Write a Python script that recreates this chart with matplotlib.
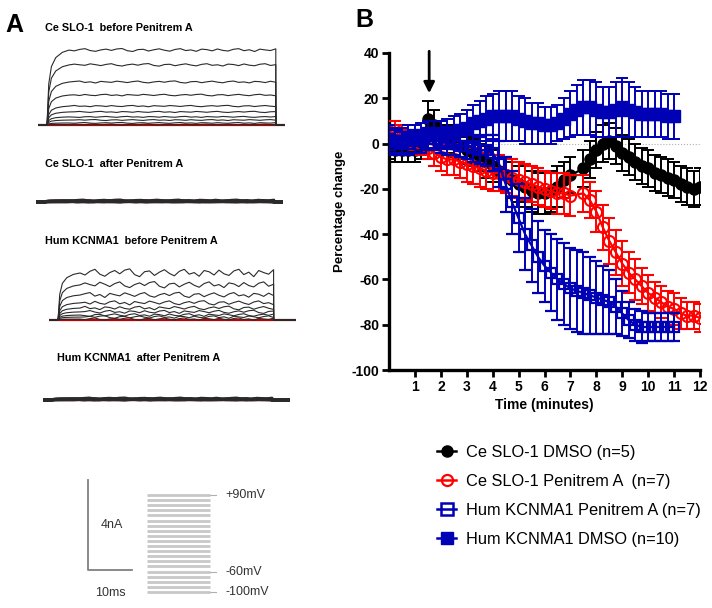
import matplotlib.pyplot as plt
from matplotlib.lines import Line2D
import numpy as np

plt.rcParams['font.family'] = ['Liberation Sans', 'DejaVu Sans']
plt.rcParams['axes.unicode_minus'] = False

W, H = 712, 608

# ---------------- panel B data (percentage change vs time, minutes) ----------------
t_hum = [0, 0.25, 0.5, 0.75, 1, 1.25, 1.5, 1.75, 2, 2.25, 2.5, 2.75, 3, 3.25, 3.5,
         3.75, 4, 4.25, 4.5, 4.75, 5, 5.25, 5.5, 5.75, 6, 6.25, 6.5, 6.75, 7, 7.25,
         7.5, 7.75, 8, 8.25, 8.5, 8.75, 9, 9.25, 9.5, 9.75, 10, 10.25, 10.5, 10.75, 11]
hum_dmso = [2, 1, 1, 2, 2, 3, 4, 4, 4, 5, 5, 6, 7, 9, 10, 11, 12, 12, 12, 12,
            11, 10, 9, 9, 8, 8, 9, 11, 13, 15, 16, 16, 15, 14, 14, 15, 16, 15, 14, 13,
            13, 13, 13, 12, 12]
hum_dmso_err = [6, 6, 6, 6, 6, 6, 6, 6, 6, 6, 7, 7, 8, 8, 9, 10, 10, 11, 11, 11,
                10, 10, 9, 9, 8, 8, 8, 9, 10, 11, 12, 12, 12, 11, 11, 12, 13, 12, 11, 10,
                10, 10, 10, 10, 10]
hum_pen = [2, 1, 0, 0, 1, 1, 2, 2, 1, 0, 0, -1, -1, -2, -3, -3, -4, -9, -18, -26,
           -33, -40, -45, -50, -54, -57, -60, -62, -64, -65, -66, -67, -68, -69, -70, -72,
           -75, -78, -80, -81, -81, -81, -81, -81, -81]
hum_pen_err = [5, 5, 5, 5, 5, 5, 5, 5, 5, 5, 5, 5, 6, 6, 6, 7, 8, 10, 12, 14,
               15, 16, 16, 16, 16, 17, 18, 18, 18, 18, 18, 17, 16, 15, 14, 12, 10, 8, 7, 7,
               6, 6, 6, 6, 6]

t_ce = [0, 0.25, 0.5, 0.75, 1, 1.25, 1.5, 1.75, 2, 2.25, 2.5, 2.75, 3, 3.25, 3.5,
        3.75, 4, 4.25, 4.5, 4.75, 5, 5.25, 5.5, 5.75, 6, 6.25, 6.5, 6.75, 7,
        7.5, 7.75, 8, 8.25, 8.5, 8.75, 9, 9.25, 9.5, 9.75, 10, 10.25, 10.5, 10.75, 11,
        11.25, 11.5, 11.75, 12]
ce_dmso = [-2, -3, -3, -3, -3, -2, 11, 8, 4, 2, 0, -1, -3, -4, -6, -8, -10, -12, -14,
           -16, -18, -19, -21, -22, -22, -21, -19, -16, -14,
           -11, -7, -3, 0, 1, -1, -4, -6, -8, -10, -11, -13, -14, -15, -16, -18, -19, -20, -19]
ce_dmso_err = [5, 5, 5, 5, 5, 5, 8, 7, 6, 6, 6, 6, 6, 6, 6, 7, 7, 7, 8, 8, 8, 9, 9, 9,
               9, 9, 9, 8, 8,
               8, 8, 8, 8, 8, 8, 8, 8, 8, 8, 8, 8, 8, 8, 8, 8, 8, 8, 8]
ce_pen = [3, 6, 4, 2, 1, 0, -2, -4, -6, -7, -7, -8, -9, -10, -11, -12, -13, -13, -14,
          -15, -16, -17, -18, -19, -20, -21, -22, -22, -23,
          -22, -25, -30, -37, -43, -48, -53, -57, -60, -63, -66, -68, -70, -72, -73, -75,
          -76, -76, -77]
ce_pen_err = [4, 4, 4, 4, 4, 5, 5, 6, 6, 7, 7, 7, 8, 8, 8, 8, 8, 8, 8, 8, 8, 8, 8, 8,
              8, 8, 9, 9, 9,
              8, 8, 9, 10, 10, 10, 10, 9, 9, 8, 8, 7, 7, 7, 7, 7, 6, 6, 6]

labels = ['Ce SLO-1 DMSO (n=5)', 'Ce SLO-1 Penitrem A  (n=7)',
          'Hum KCNMA1 Penitrem A (n=7)', 'Hum KCNMA1 DMSO (n=10)']
x_ticks = [1, 2, 3, 4, 5, 6, 7, 8, 9, 10, 11, 12]
y_ticks = [-100, -80, -60, -40, -20, 0, 20, 40]
arrow_time = 1.55

# ---------------- panel A data (currents in nA, time in ms) ----------------
ce_before_levels = [3.33, 2.67, 1.91, 1.33, 0.84, 0.58, 0.36, 0.22, 0.09, 0.02]
hum_before_levels = [2.09, 1.56, 1.11, 0.76, 0.53, 0.36, 0.22, 0.13, 0.04]
after_levels = [0.06, 0.04, 0.03, 0.02, 0.01]
rise_t = [0, 0.4, 1.0, 2.0, 3.5, 5.0]
rise_frac = [0, 0.55, 0.78, 0.9, 0.97, 1.0]
wiggle = [0.2, -0.5, 0.4, 0.9, -0.3, -0.8, 0.1, 0.6, -0.2, 0.7, 1.0, -0.4, -0.9, 0.3,
          0.5, -0.6, 0.2, 0.8, -0.1, -0.7, 0.4, 0.9, -0.3, 0.1, -0.8, 0.6, 0.3, -0.5,
          0.7, -0.2, -0.6, 0.5, 0.9, -0.4, 0.2, -0.9, 0.6, 0.1, -0.3, 0.8]
protocol_mv = [-100, -90, -80, -70, -60, -50, -40, -30, -20, -10,
               0, 10, 20, 30, 40, 50, 60, 70, 80, 90]
protocol_labels = {90: '+90mV', -60: '-60mV', -100: '-100mV'}

fig = plt.figure(figsize=(W / 100, H / 100), dpi=100)

PX_MS = 4.4      # pixels per ms
PX_NA = 22.5     # pixels per nA


def trace_axes(onset_px, base_px):
    left = onset_px - 2 * PX_MS
    bottom = base_px + 0.3 * PX_NA
    ax = fig.add_axes([left / W, 1 - bottom / H, 56 * PX_MS / W, 4.0 * PX_NA / H])
    ax.set_xlim(-2, 54)
    ax.set_ylim(-0.3, 3.7)
    ax.axis('off')
    return ax


def draw_family(ax, levels, dur, noise, lw=0.8):
    ax.plot([-2, 54], [0, 0], color='#c00000', lw=1.6, zorder=1)
    plat_t = np.linspace(rise_t[-1], dur, len(wiggle))
    for k, lev in enumerate(levels):
        w = np.roll(wiggle, 5 * k) * noise * (0.4 + lev / max(levels))
        tt = np.concatenate([[-2, 0], rise_t[1:], plat_t[1:], [dur, 54]])
        yy = np.concatenate([[0, 0], lev * np.array(rise_frac[1:]),
                             lev + w[1:], [0, 0]])
        ax.plot(tt, yy, color='#2a2a2a', lw=lw, zorder=2)


# panel A: current traces
ax1 = trace_axes(47, 125)
draw_family(ax1, ce_before_levels, 52, 0.05)
ax2 = trace_axes(45, 202)
draw_family(ax2, after_levels, 52, 0.02, lw=2.2)
ax3 = trace_axes(58, 320)
draw_family(ax3, hum_before_levels, 49, 0.13)
ax4 = trace_axes(52, 400)
draw_family(ax4, after_levels, 50, 0.02, lw=2.2)

fig.text(5 / W, 1 - 32 / H, 'A', fontsize=18, fontweight='bold')
tkw = dict(fontsize=7.8, fontweight='bold')
fig.text(45 / W, 1 - 31 / H, 'Ce SLO-1  before Penitrem A', **tkw)
fig.text(45 / W, 1 - 167 / H, 'Ce SLO-1  after Penitrem A', **tkw)
fig.text(45 / W, 1 - 244 / H, 'Hum KCNMA1  before Penitrem A', **tkw)
fig.text(57 / W, 1 - 361 / H, 'Hum KCNMA1  after Penitrem A', **tkw)

# scale bar
axs = fig.add_axes([(88 - 2 * PX_MS) / W, 1 - (570 + 1.5 * PX_NA) / H,
                    32 * PX_MS / W, 6 * PX_NA / H])
axs.set_xlim(-2, 30)
axs.set_ylim(-1.5, 4.5)
axs.axis('off')
axs.plot([0, 0, 10], [4, 0, 0], color='#808080', lw=1.3)
axs.text(5.5, 2.0, '4nA', fontsize=9, color='#333333', ha='center', va='center')
axs.text(5.0, -1.0, '10ms', fontsize=9, color='#333333', ha='center', va='center')

# voltage protocol
PX_MV = 97 / 190
axp = fig.add_axes([140 / W, 1 - 600 / H, 130 / W, 112 / H])
axp.set_xlim(-1.6, 130 / PX_MS - 1.6)
axp.set_ylim(-100 - 8 / PX_MV, -100 + 104 / PX_MV)
axp.axis('off')
for v in protocol_mv:
    axp.plot([0, 14.3], [v, v], color='#c8c8c8', lw=2.0, solid_capstyle='butt')
for v, s in protocol_labels.items():
    axp.plot([14.3, 15.6], [v, v], color='#b0b0b0', lw=0.8)
    axp.text(17.8, v, s, fontsize=9, color='#333333', va='center', ha='left')

# ---------------- panel B ----------------
axb = fig.add_axes([389 / W, 1 - 370 / H, (700 - 389) / W, (370 - 53) / H])
blue = '#0000b4'
ekw = dict(capsize=4.5, elinewidth=1.4, capthick=1.4, lw=1.6)
axb.errorbar(t_ce, ce_dmso, yerr=ce_dmso_err, color='black', marker='o', ms=8,
             zorder=2, **ekw)
axb.errorbar(t_ce, ce_pen, yerr=ce_pen_err, color='#ff0000', marker='o', ms=8,
             mfc='none', mew=1.5, zorder=3, **ekw)
axb.errorbar(t_hum, hum_pen, yerr=hum_pen_err, color=blue, marker='s', ms=7.5,
             mfc='none', mew=1.6, zorder=4, **ekw)
axb.errorbar(t_hum, hum_dmso, yerr=hum_dmso_err, color=blue, marker='s', ms=8,
             zorder=5, **ekw)
axb.axhline(0, color='#b0b0b0', lw=0.8, ls=':', zorder=1)
axb.annotate('', xy=(arrow_time, 21), xytext=(arrow_time, 42),
             arrowprops=dict(arrowstyle='-|>', color='black', lw=2, mutation_scale=16),
             annotation_clip=False)

axb.set_xlim(0, 12)
axb.set_ylim(-100, 40)
axb.set_xticks(x_ticks)
axb.set_yticks(y_ticks)
for s in ['top', 'right']:
    axb.spines[s].set_visible(False)
for s in ['left', 'bottom']:
    axb.spines[s].set_linewidth(2.4)
axb.tick_params(width=2, length=5, labelsize=10, pad=2)
for lab in axb.get_xticklabels() + axb.get_yticklabels():
    lab.set_fontweight('bold')
axb.set_ylabel('Percentage change', fontsize=9.5, fontweight='bold', labelpad=4)
axb.set_xlabel('Time (minutes)', fontsize=10, fontweight='bold', labelpad=3)
fig.text(355 / W, 1 - 27 / H, 'B', fontsize=18, fontweight='bold')

handles = [
    Line2D([], [], color='black', marker='o', ms=8, lw=1.8),
    Line2D([], [], color='#ff0000', marker='o', ms=8, mfc='none', mew=1.6, lw=1.8),
    Line2D([], [], color=blue, marker='s', ms=8, mfc='none', mew=1.8, lw=1.8),
    Line2D([], [], color=blue, marker='s', ms=8, lw=1.8),
]
fig.legend(handles, labels, loc='upper left', bbox_to_anchor=(422 / W, 1 - 430 / H),
           frameon=False, fontsize=11.8, handlelength=1.2, handletextpad=0.6,
           labelspacing=0.85)

fig.savefig('out.png', dpi=100)
